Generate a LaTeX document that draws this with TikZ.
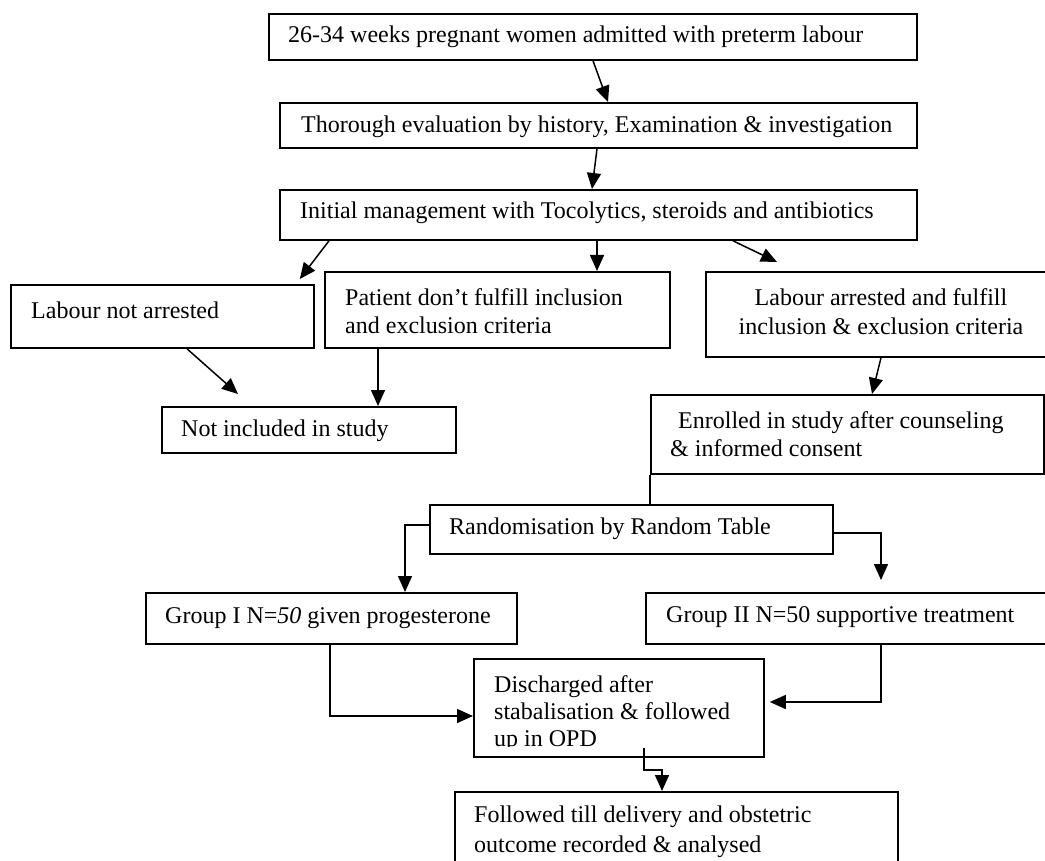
\documentclass[tikz,border=0pt]{standalone}
\usepackage{fontspec}
\setmainfont{Liberation Serif}
\usetikzlibrary{arrows.meta}
\begin{document}
\begin{tikzpicture}[x=1pt,y=-1pt,
  box/.style={draw, line width=1.8pt, inner sep=0pt, anchor=north west},
  txt/.style={anchor=west, inner sep=0pt, align=left, font=\fontsize{24}{28}\selectfont},
  ctxt/.style={anchor=center, inner sep=0pt, align=center, font=\fontsize{24}{29}\selectfont},
  link/.style={line width=1.5pt},
  arr/.style={link, -{Triangle[length=16pt,width=14pt]}}]
\fill[white] (0,0) rectangle (1045,861);
\clip (0,0) rectangle (1045,861);
% boxes
\node[box, minimum width=648pt, minimum height=46pt] (bA) at (268,13) {};
\node[box, minimum width=637pt, minimum height=45pt] (bB) at (279,102) {};
\node[box, minimum width=637pt, minimum height=50pt] (bC) at (279,189) {};
\node[box, minimum width=303pt, minimum height=63pt] (bD) at (10,284) {};
\node[box, minimum width=345pt, minimum height=76pt] (bE) at (324,271) {};
\node[box, minimum width=360pt, minimum height=85pt] (bF) at (705,271) {};
\node[box, minimum width=294pt, minimum height=46pt] (bG) at (161,406) {};
\node[box, minimum width=393pt, minimum height=79pt] (bH) at (650,394) {};
\node[box, minimum width=403pt, minimum height=49pt] (bR) at (429,504) {};
\node[box, minimum width=371pt, minimum height=51pt] (bG1) at (145,592) {};
\node[box, minimum width=420pt, minimum height=51pt] (bG2) at (645,592) {};
\node[box, minimum width=290pt, minimum height=98pt] (bDis) at (473,658) {};
\node[box, minimum width=443pt, minimum height=100pt] (bFol) at (454,791) {};
% texts
\node[txt] (tA) at (288,37) {26-34 weeks pregnant women admitted with preterm labour};
\node[txt] (tB) at (301,127) {Thorough evaluation by history, Examination \& investigation};
\node[txt] (tC) at (300,213) {Initial management with Tocolytics, steroids and antibiotics};
\node[txt] (tD) at (31,310) {Labour not arrested};
\node[txt] (tE) at (345,311) {Patient don’t fulfill inclusion\\and exclusion criteria};
\node[ctxt] (tF) at (881,312) {Labour arrested and fulfill\\inclusion \& exclusion criteria};
\node[txt] (tG) at (181,431) {Not included in study};
\node[txt] (tH) at (670,434) {\hspace*{8pt}Enrolled in study after counseling\\\& informed consent};
\node[txt] (tR) at (449,529) {Randomisation by Random Table};
\node[txt] (tG1) at (165,618) {Group I N=\textit{50} given progesterone};
\node[txt] (tG2) at (666,617) {Group II N=50 supportive treatment};
\begin{scope}
\clip (bDis.north west) rectangle ([yshift=11pt]bDis.south east);
\node[txt, font=\fontsize{24}{27}\selectfont] (tDis) at (494,714) {Discharged after\\stabalisation \& followed\\up in OPD};
\end{scope}
\node[txt, font=\fontsize{24}{30}\selectfont] (tFol) at (474,832) {Followed till delivery and obstetric\\outcome recorded \& analysed};
% connectors
\draw[arr] ([xshift=325pt]bA.south west) -- ([xshift=329pt]bB.north west);
\draw[arr] ([xshift=318pt]bB.south west) -- ([xshift=313pt]bC.north west);
\draw[arr] ([xshift=50pt]bC.south west) -- ([xshift=-15pt,yshift=5pt]bD.north east);
\draw[arr] ([xshift=318pt]bC.south west) -- ([xshift=273pt]bE.north west);
\draw[arr] ([xshift=454pt]bC.south west) -- ([xshift=72pt,yshift=9pt]bF.north west);
\draw[arr] ([xshift=177pt]bD.south west) -- ([xshift=77pt,yshift=12pt]bG.north west);
\draw[arr] ([xshift=54pt]bE.south west) -- ([xshift=217pt]bG.north west);
\draw[arr] ([xshift=176pt]bF.south west) -- ([xshift=222pt]bH.north west);
\draw[link] (bH.south west) -- ([xshift=221pt]bR.north west);
\draw[arr] ([yshift=-21pt]bR.north west) -| ([xshift=260pt]bG1.north west);
\draw[arr] ([yshift=-29pt]bR.north east) -| ([xshift=236pt,yshift=12pt]bG2.north west);
\draw[arr] ([xshift=185pt]bG1.south west) |- ([yshift=-58pt]bDis.north west);
\draw[arr] ([xshift=236pt]bG2.south west) |- ([xshift=5pt,yshift=-44pt]bDis.north east);
\draw[arr] ([xshift=171pt,yshift=10pt]bDis.south west) -- ++(0,22) -| ([xshift=208pt]bFol.north west);
\end{tikzpicture}
\end{document}
